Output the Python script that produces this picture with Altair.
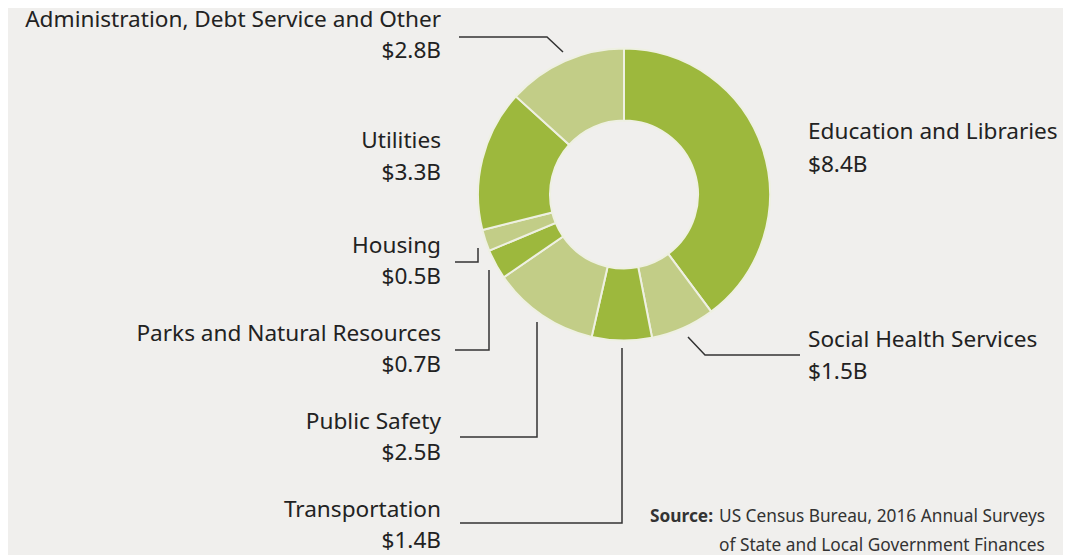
import altair as alt
import pandas as pd

# ---- data ----
categories = ["Education and Libraries", "Social Health Services", "Transportation",
              "Public Safety", "Parks and Natural Resources", "Housing", "Utilities",
              "Administration, Debt Service and Other"]
values = [8.4, 1.5, 1.4, 2.5, 0.7, 0.5, 3.3, 2.8]
value_labels = ["$8.4B", "$1.5B", "$1.4B", "$2.5B", "$0.7B", "$0.5B", "$3.3B", "$2.8B"]

# ---- styles / layout (page px minus 8px margin) ----
DARK = "#9DB83D"
LIGHT = "#C2CD87"
slice_colors = [DARK, LIGHT, DARK, LIGHT, DARK, LIGHT, DARK, LIGHT]
BG = "#F0EFED"
FONT = "Noto Sans"
FS = 22.6
OFF = 8
CX, CY = 624 - OFF, 194.5 - OFF

# label anchor (x, name baseline y, value baseline y, align)
label_pos = [
    (808, 139, 172, "left"),
    (808, 347, 379, "left"),
    (441, 517, 548, "right"),
    (441, 429, 460, "right"),
    (441, 341, 372, "right"),
    (441, 253, 284, "right"),
    (441, 148, 180, "right"),
    (441, 27, 58, "right"),
]
leaders = [
    [],
    [(688, 337), (705, 355), (800, 355)],
    [(622, 348), (622, 523), (460, 523)],
    [(537, 322), (537, 437), (460, 437)],
    [(489, 270), (489, 350), (455, 350)],
    [(478, 248), (478, 262), (455, 262)],
    [],
    [(563, 52), (547, 37), (459, 37)],
]

pie = pd.DataFrame({"name": categories, "value": values, "order": list(range(len(values)))})

rows = []
for i, (x, yn, yv, al) in enumerate(label_pos):
    rows.append({"x": x - OFF, "y": yn - OFF, "t": categories[i], "al": al})
    rows.append({"x": x - OFF, "y": yv - OFF, "t": value_labels[i], "al": al})
labels = pd.DataFrame(rows)

lrows = []
for i, seg in enumerate(leaders):
    for j, (x, y) in enumerate(seg):
        lrows.append({"seg": i, "k": j, "x": x - OFF, "y": y - OFF})
lines = pd.DataFrame(lrows)

arc = alt.Chart(pie).mark_arc(outerRadius=146, innerRadius=74, stroke="#EEF0E2",
                              strokeWidth=2).encode(
    theta=alt.Theta("value:Q", stack=True),
    order=alt.Order("order:Q"),
    color=alt.Color("name:N", scale=alt.Scale(domain=categories, range=slice_colors), legend=None),
    x=alt.value(CX), y=alt.value(CY),
)

lab_l = alt.Chart(labels[labels.al == "left"]).mark_text(
    align="left", baseline="alphabetic", font=FONT, fontSize=FS, color="#222222").encode(
    x=alt.X("x:Q", scale=None), y=alt.Y("y:Q", scale=None), text="t:N")
lab_r = alt.Chart(labels[labels.al == "right"]).mark_text(
    align="right", baseline="alphabetic", font=FONT, fontSize=FS, color="#222222").encode(
    x=alt.X("x:Q", scale=None), y=alt.Y("y:Q", scale=None), text="t:N")

lead = alt.Chart(lines).mark_line(color="#333333", strokeWidth=1.5).encode(
    x=alt.X("x:Q", scale=None), y=alt.Y("y:Q", scale=None),
    detail="seg:N", order="k:Q")

src_df = pd.DataFrame({"x": [719 - OFF, 719 - OFF], "y": [522 - OFF, 551 - OFF],
                       "t": ["US Census Bureau, 2016 Annual Surveys",
                             "of State and Local Government Finances"]})
src = alt.Chart(src_df).mark_text(align="left", baseline="alphabetic", font=FONT, fontSize=17.3,
                                  color="#333333").encode(
    x=alt.X("x:Q", scale=None), y=alt.Y("y:Q", scale=None), text="t:N")
src_b = alt.Chart(pd.DataFrame({"x": [713 - OFF], "y": [522 - OFF], "t": ["Source:"]})).mark_text(
    align="right", baseline="alphabetic", font=FONT, fontSize=17.3, fontWeight="bold",
    color="#333333").encode(
    x=alt.X("x:Q", scale=None), y=alt.Y("y:Q", scale=None), text="t:N")

chart = alt.layer(arc, lead, lab_l, lab_r, src, src_b).properties(
    width=1055, height=547, padding=0, autosize=alt.AutoSizeParams(type="none"),
    background=BG
).configure_view(stroke=None)

chart.save("out.html", embed_options={"renderer": "svg", "actions": False})
